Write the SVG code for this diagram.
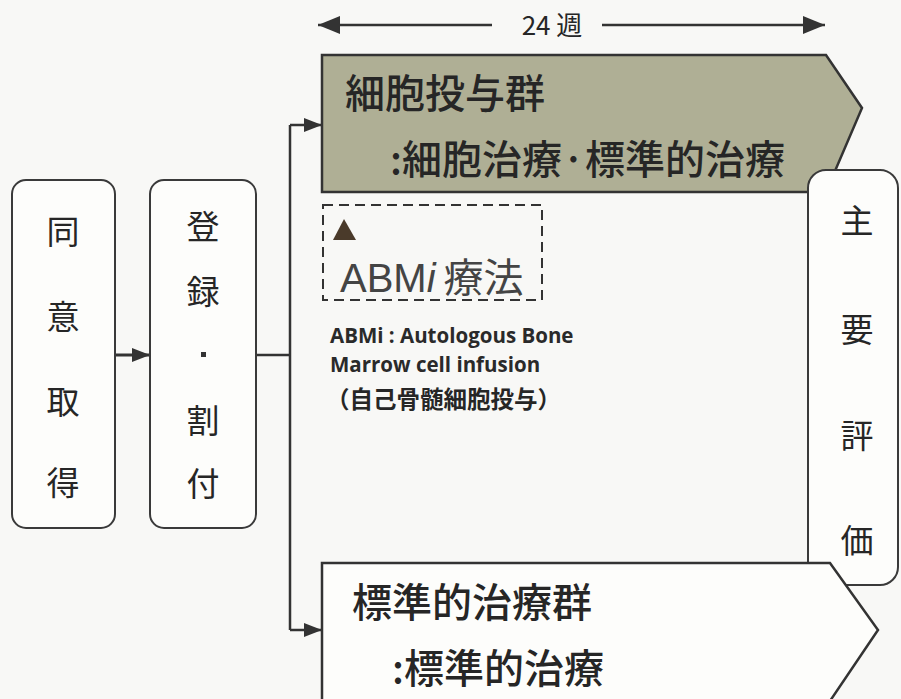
<svg xmlns="http://www.w3.org/2000/svg" width="901" height="699" viewBox="0 0 901 699">
<defs>
<marker id="ah" viewBox="0 0 10 10" refX="10" refY="5" markerWidth="18" markerHeight="14" markerUnits="userSpaceOnUse" orient="auto-start-reverse" preserveAspectRatio="none">
<path d="M0,0 L10,5 L0,10 z" fill="#333"/>
</marker>
<marker id="ah2" viewBox="0 0 10 10" refX="10" refY="5" markerWidth="22" markerHeight="18" markerUnits="userSpaceOnUse" orient="auto-start-reverse" preserveAspectRatio="none">
<path d="M0,0 L10,5 L0,10 z" fill="#333"/>
</marker>
<style>
.t{font-family:"Noto Sans CJK JP","Noto Sans",sans-serif;fill:#262626}
.big{font-size:40px;font-weight:500}
.v{font-size:33px;text-anchor:middle}
.box{fill:#fdfdfb;stroke:#3a3a3a;stroke-width:2}
.ln{stroke:#333;stroke-width:2.5;fill:none}
.en{font-family:"Open Sans","Noto Sans",sans-serif;font-weight:bold;font-size:20.5px;fill:#2a2a2a}
</style>
</defs>
<rect width="901" height="699" fill="#f8f8f6"/>
<g id="connectors">
<line class="ln" x1="318" y1="25" x2="492" y2="25" marker-start="url(#ah2)"/>
<line class="ln" x1="602" y1="25" x2="825" y2="25" marker-end="url(#ah2)"/>
<line class="ln" x1="116" y1="355" x2="150" y2="355" marker-end="url(#ah)" style="stroke-width:3"/>
<line class="ln" x1="257" y1="355" x2="290" y2="355"/>
<line class="ln" x1="290" y1="125" x2="290" y2="630"/>
<line class="ln" x1="290" y1="125" x2="322" y2="125" marker-end="url(#ah)"/>
<line class="ln" x1="290" y1="630" x2="322" y2="630" marker-end="url(#ah)"/>
</g>
<text class="t" x="552" y="35" font-size="26" text-anchor="middle">24 週</text>
<g id="cell-group">
<path d="M322,55 L826,55 L862,108 L826,192 L322,192 Z" fill="#afaf95" stroke="#333" stroke-width="2.5"/>
<text class="t big" x="345" y="108">細胞投与群</text>
<text class="t big" x="390" y="174">:細胞治療·標準的治療</text>
</g>
<g id="consent">
<rect class="box" x="12" y="180" width="103" height="348" rx="14"/>
<text class="t v" x="63" y="244">同</text>
<text class="t v" x="63" y="329">意</text>
<text class="t v" x="63" y="414">取</text>
<text class="t v" x="63" y="495">得</text>
</g>
<g id="register">
<rect class="box" x="150" y="180" width="106" height="348" rx="14"/>
<text class="t v" x="203" y="239">登</text>
<text class="t v" x="203" y="304">録</text>
<rect x="201" y="352" width="5" height="5" fill="#333"/>
<text class="t v" x="203" y="433">割</text>
<text class="t v" x="203" y="496">付</text>
</g>
<g id="abmi">
<rect x="323" y="205" width="219" height="95" fill="none" stroke="#333" stroke-width="2" stroke-dasharray="10,6"/>
<path d="M333,240 L344,219 L356,240 Z" fill="#4a3a2a"/>
<text x="340" y="292" font-size="40" fill="#444" font-family="Liberation Sans, sans-serif">ABM<tspan font-style="italic">i</tspan><tspan font-family="Noto Sans CJK JP, sans-serif" dx="8">療法</tspan></text>
<text class="en" x="330" y="343">ABMi : Autologous Bone</text>
<text class="en" x="330" y="372">Marrow cell infusion</text>
<text class="t" x="326" y="408" font-size="23.5" font-weight="bold">（自己骨髄細胞投与）</text>
</g>
<g id="eval">
<rect class="box" x="808" y="170" width="90" height="415" rx="18"/>
<text class="t v" x="857" y="233">主</text>
<text class="t v" x="857" y="342">要</text>
<text class="t v" x="857" y="448">評</text>
<text class="t v" x="857" y="553">価</text>
</g>
<g id="standard-group">
<path d="M322,701 L322,563 L830,563 L878,630 L830,701" fill="#fdfdfb" stroke="#333" stroke-width="2.5"/>
<text class="t big" x="352" y="617">標準的治療群</text>
<text class="t big" x="392" y="683">:標準的治療</text>
</g>
</svg>
